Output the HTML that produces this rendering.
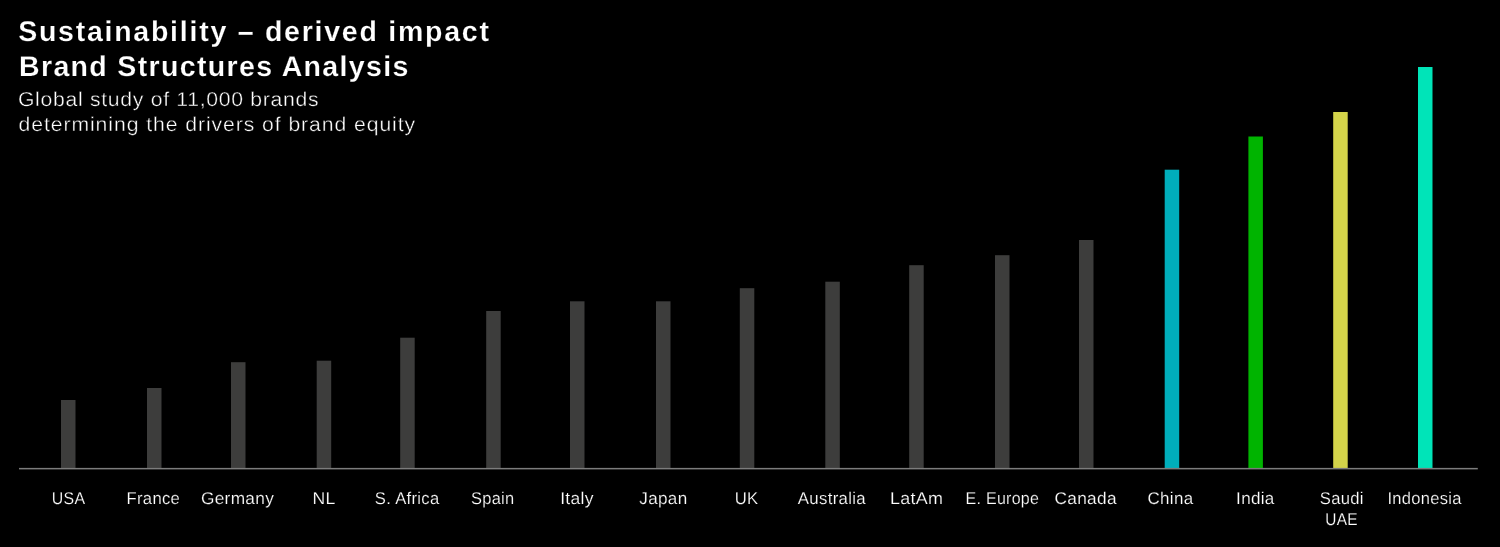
<!DOCTYPE html>
<html lang="en">
<head>
<meta charset="utf-8">
<title>Sustainability – derived impact | Brand Structures Analysis</title>
<style>
html,body{margin:0;padding:0;background:#000;}
body{width:1500px;height:547px;overflow:hidden;position:relative;font-family:"Liberation Sans",sans-serif;color:#fff;}
.chart{position:absolute;left:0;top:0;width:1500px;height:547px;display:block;}
.t{position:absolute;white-space:nowrap;margin:0;padding:0;line-height:1;transform-origin:0 0;text-rendering:geometricPrecision;}
.h{font-weight:bold;color:#fff;-webkit-text-stroke:0.2px #000;}
.s{font-weight:normal;color:#ffffff;-webkit-text-stroke:0.38px #000;}
.l{font-weight:normal;color:#ffffff;-webkit-text-stroke:0.2px #000;}
</style>
</head>
<body>
<svg class="chart" width="1500" height="547" viewBox="0 0 1500 547">
<rect x="0" y="0" width="1500" height="547" fill="#000"/>
<rect x="61.0" y="400.0" width="14.5" height="68.2" fill="#3d3d3c"/>
<rect x="147.0" y="388.0" width="14.5" height="80.2" fill="#3d3d3c"/>
<rect x="231.0" y="362.2" width="14.5" height="106.0" fill="#3d3d3c"/>
<rect x="316.7" y="360.7" width="14.5" height="107.5" fill="#3d3d3c"/>
<rect x="400.2" y="337.7" width="14.5" height="130.5" fill="#3d3d3c"/>
<rect x="486.2" y="311.0" width="14.5" height="157.2" fill="#3d3d3c"/>
<rect x="570.0" y="301.3" width="14.5" height="166.9" fill="#3d3d3c"/>
<rect x="656.0" y="301.3" width="14.5" height="166.9" fill="#3d3d3c"/>
<rect x="739.8" y="288.2" width="14.5" height="180.0" fill="#3d3d3c"/>
<rect x="825.3" y="281.7" width="14.5" height="186.5" fill="#3d3d3c"/>
<rect x="909.2" y="265.2" width="14.5" height="203.0" fill="#3d3d3c"/>
<rect x="995.0" y="255.2" width="14.5" height="213.0" fill="#3d3d3c"/>
<rect x="1079.0" y="240.0" width="14.5" height="228.2" fill="#3d3d3c"/>
<rect x="1164.7" y="169.7" width="14.5" height="298.5" fill="#00aebb"/>
<rect x="1248.4" y="136.5" width="14.5" height="331.7" fill="#00b400"/>
<rect x="1333.2" y="112.0" width="14.5" height="356.2" fill="#d4d44a"/>
<rect x="1418.0" y="67.0" width="14.5" height="401.2" fill="#00e4b8"/>
<rect x="19" y="467.9" width="1458.8" height="1.5" fill="#7c7c7c"/>
</svg>
<h1 class="t h" style="left:18.15px;top:18px;font-size:28.5px;letter-spacing:1.754px;">Sustainability – derived impact</h1>
<h1 class="t h" style="left:19.00px;top:53px;font-size:28.5px;letter-spacing:1.352px;">Brand Structures Analysis</h1>
<p class="t s" style="left:0;top:90px;font-size:20px;letter-spacing:0.656px;transform:translateX(17.90px) scaleX(1.0600);">Global study of 11,000 brands</p>
<p class="t s" style="left:0;top:115px;font-size:20px;letter-spacing:0.866px;transform:translateX(18.50px) scaleX(1.0600);">determining the drivers of brand equity</p>
<span class="t l" style="left:0;top:490px;font-size:17px;letter-spacing:0.300px;transform:translateX(51.80px) scaleX(0.9353);">USA</span>
<span class="t l" style="left:0;top:490px;font-size:17px;letter-spacing:0.300px;transform:translateX(126.51px) scaleX(0.9809);">France</span>
<span class="t l" style="left:0;top:490px;font-size:17px;letter-spacing:0.300px;transform:translateX(200.94px) scaleX(1.0168);">Germany</span>
<span class="t l" style="left:0;top:490px;font-size:17px;letter-spacing:0.300px;transform:translateX(312.42px) scaleX(1.0361);">NL</span>
<span class="t l" style="left:0;top:490px;font-size:17px;letter-spacing:0.300px;transform:translateX(374.86px) scaleX(0.9781);">S. Africa</span>
<span class="t l" style="left:0;top:490px;font-size:17px;letter-spacing:0.300px;transform:translateX(470.96px) scaleX(0.9681);">Spain</span>
<span class="t l" style="left:0;top:490px;font-size:17px;letter-spacing:0.300px;transform:translateX(560.16px) scaleX(1.0317);">Italy</span>
<span class="t l" style="left:0;top:490px;font-size:17px;letter-spacing:0.300px;transform:translateX(639.35px) scaleX(1.0069);">Japan</span>
<span class="t l" style="left:0;top:490px;font-size:17px;letter-spacing:0.300px;transform:translateX(734.76px) scaleX(0.9819);">UK</span>
<span class="t l" style="left:0;top:490px;font-size:17px;letter-spacing:0.300px;transform:translateX(797.85px) scaleX(0.9894);">Australia</span>
<span class="t l" style="left:0;top:490px;font-size:17px;letter-spacing:0.300px;transform:translateX(889.88px) scaleX(1.0543);">LatAm</span>
<span class="t l" style="left:0;top:490px;font-size:17px;letter-spacing:0.300px;transform:translateX(965.51px) scaleX(0.9413);">E. Europe</span>
<span class="t l" style="left:0;top:490px;font-size:17px;letter-spacing:0.300px;transform:translateX(1054.49px) scaleX(1.0168);">Canada</span>
<span class="t l" style="left:0;top:490px;font-size:17px;letter-spacing:0.300px;transform:translateX(1147.50px) scaleX(0.9991);">China</span>
<span class="t l" style="left:0;top:490px;font-size:17px;letter-spacing:0.300px;transform:translateX(1236.09px) scaleX(1.0056);">India</span>
<span class="t l" style="left:0;top:490px;font-size:17px;letter-spacing:0.300px;transform:translateX(1319.75px) scaleX(0.9785);">Saudi</span>
<span class="t l" style="left:0;top:490px;font-size:17px;letter-spacing:0.300px;transform:translateX(1387.47px) scaleX(0.9725);">Indonesia</span>
<span class="t l" style="left:0;top:511px;font-size:17px;letter-spacing:0.300px;transform:translateX(1325.27px) scaleX(0.9078);">UAE</span>
</body>
</html>
